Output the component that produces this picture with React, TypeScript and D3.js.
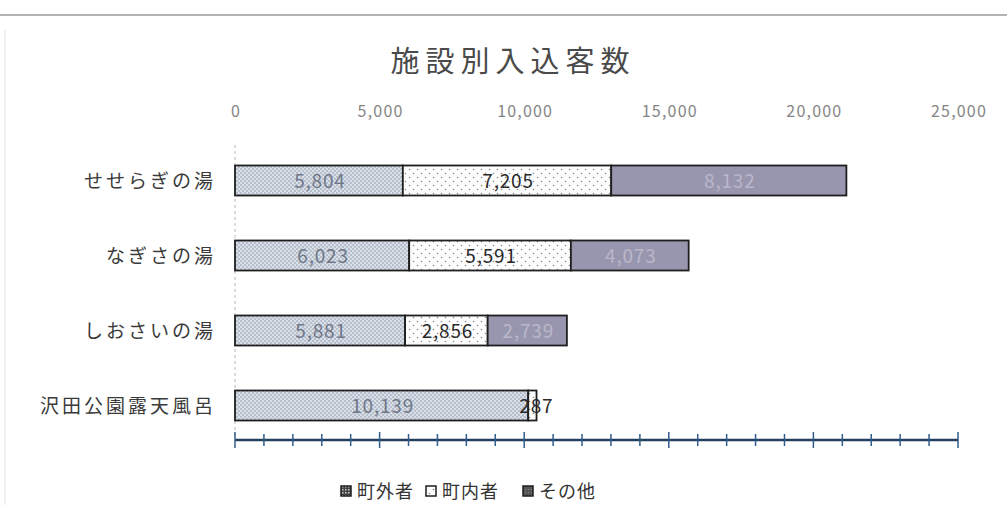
import React from "react";
import * as d3 from "d3";

const categories = ["せせらぎの湯", "なぎさの湯", "しおさいの湯", "沢田公園露天風呂"];
const seriesNames = ["町外者", "町内者", "その他"];
const outsideTown = [5804, 6023, 5881, 10139];
const insideTown = [7205, 5591, 2856, 287];
const others = [8132, 4073, 2739, 0];
const tickValues = [0, 5000, 10000, 15000, 20000, 25000];

const W = 1007;
const H = 520;
const FONT = "'Noto Sans CJK JP', 'Noto Sans', sans-serif";

export default function App() {
  const x = d3.scaleLinear().domain([0, 25000]).range([235, 958]);
  const y = d3.scaleBand().domain(categories).range([143, 443]).paddingInner(0.6).paddingOuter(0.3);
  const rows = categories.map((c, i) => ({ "0": outsideTown[i], "1": insideTown[i], "2": others[i] }));
  const stack = d3.stack<any>().keys(["0", "1", "2"])(rows);
  const fills = ["url(#pOut)", "url(#pIn)", "#9896ae"];
  const legendFills = ["url(#pOutL)", "url(#pIn)", "url(#pOthL)"];
  const labelColors = ["#6f7788", "#2a2a2a", "#bab7ca"];
  const fmt = d3.format(",");
  const minorTicks = d3.range(0, 25001, 1000);
  const axisY = 440;
  const bw = y.bandwidth();

  return (
    <svg width={W} height={H} style={{ position: "absolute", left: 0, top: 0, background: "#fff" }}>
      <defs>
        <pattern id="pOut" width="4" height="4" patternUnits="userSpaceOnUse">
          <rect width="4" height="4" fill="#d9dfe9" />
          <circle cx="1" cy="1" r="0.8" fill="#8d96a6" />
          <circle cx="3" cy="3" r="0.8" fill="#8d96a6" />
        </pattern>
        <pattern id="pIn" width="8" height="8" patternUnits="userSpaceOnUse">
          <rect width="8" height="8" fill="#fdfdfd" />
          <circle cx="1.5" cy="1.5" r="0.8" fill="#8a8a8a" />
          <circle cx="5.5" cy="5.5" r="0.8" fill="#8a8a8a" />
        </pattern>
        <pattern id="pOutL" width="3" height="3" patternUnits="userSpaceOnUse">
          <rect width="3" height="3" fill="#444" />
          <rect width="1.5" height="1.5" fill="#ccc" />
        </pattern>
        <pattern id="pOthL" width="3" height="3" patternUnits="userSpaceOnUse">
          <rect width="3" height="3" fill="#555" />
          <rect width="1" height="1" fill="#888" />
        </pattern>
      </defs>
      <line x1={0} x2={W} y1={15} y2={15} stroke="#9a9a9a" strokeWidth={1.5} />
      <line x1={5} x2={5} y1={30} y2={505} stroke="#e4e4e4" strokeWidth={1} />
      <text x={513} y={72} textAnchor="middle" fontFamily={FONT} fontSize={29} letterSpacing={6} fill="#4a4a4a">施設別入込客数</text>
      {tickValues.map((t) => (
        <text key={t} x={x(t) + 1} y={117} textAnchor="middle" fontFamily={FONT} fontSize={16} letterSpacing={1.2} fill="#858585">{fmt(t)}</text>
      ))}
      <line x1={x(0)} x2={x(0)} y1={145} y2={438} stroke="#b8b8b8" strokeDasharray="3,3" />
      {stack.map((layer, si) =>
        layer.map((d, i) => {
          const v = d[1] - d[0];
          if (v <= 0) return null;
          const yy = y(categories[i])!;
          return (
            <rect key={si + "-" + i} x={x(d[0])} y={yy} width={x(d[1]) - x(d[0])} height={bw}
              fill={fills[si]} stroke="#1e1e1e" strokeWidth={1.8} />
          );
        })
      )}
      {stack.map((layer, si) =>
        layer.map((d, i) => {
          const v = d[1] - d[0];
          if (v <= 0) return null;
          const yy = y(categories[i])!;
          const cx = (x(d[0]) + x(d[1])) / 2;
          return (
            <text key={"l" + si + "-" + i} x={v < 1000 ? cx + 4 : cx + 1} y={yy + bw / 2 + 7} textAnchor="middle"
              fontFamily={FONT} fontSize={19} letterSpacing={0.8} fill={v < 1000 ? "#2a2a2a" : labelColors[si]}>{fmt(v)}</text>
          );
        })
      )}
      {categories.map((c) => (
        <text key={c} x={216} y={y(c)! + bw / 2 + 7} textAnchor="end" fontFamily={FONT} fontSize={19} letterSpacing={3} fill="#3a3a3a">{c}</text>
      ))}
      <line x1={x(0)} x2={x(25000)} y1={axisY} y2={axisY} stroke="#24405e" strokeWidth={2.5} />
      {minorTicks.map((t) => (
        <line key={t} x1={x(t)} x2={x(t)} y1={axisY - (t % 5000 === 0 ? 8 : 6)} y2={axisY + (t % 5000 === 0 ? 8 : 6)}
          stroke="#2f5c8a" strokeWidth={1.5} />
      ))}
      {seriesNames.map((s, i) => {
        const lx = [341, 426, 523][i];
        return (
          <g key={s}>
            <rect x={lx} y={486} width={10} height={10} fill={legendFills[i]} stroke="#1e1e1e" strokeWidth={1.5} />
            <text x={lx + 16} y={498} fontFamily={FONT} fontSize={18} letterSpacing={1} fill="#333">{s}</text>
          </g>
        );
      })}
    </svg>
  );
}
